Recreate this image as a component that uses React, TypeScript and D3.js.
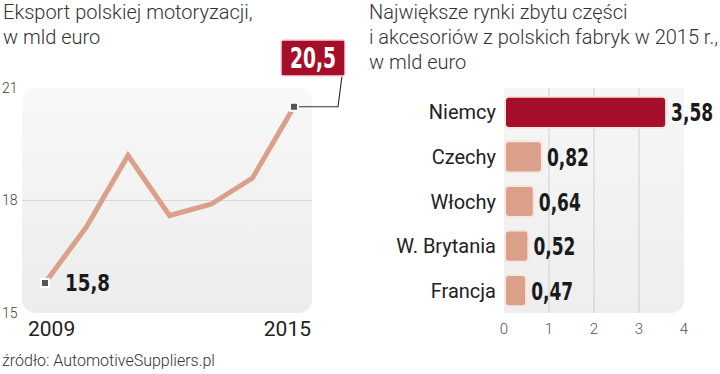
import React from "react";
import * as d3 from "d3";

const years = [2009, 2010, 2011, 2012, 2013, 2014, 2015];
const exportValues = [15.8, 17.3, 19.2, 17.6, 17.9, 18.6, 20.5];
const yTicks = [15, 18, 21];
const yearLabels = [2009, 2015];

const countries = ["Niemcy", "Czechy", "Włochy", "W. Brytania", "Francja"];
const marketValues = [3.58, 0.82, 0.64, 0.52, 0.47];
const xTicks = [0, 1, 2, 3, 4];

const red = "#a50f2a";
const salmon = "#dba08a";
const lightFont = "Roboto, 'Noto Sans', sans-serif";
const condFont = "'DejaVu Sans', sans-serif";

const fmt = (v: number) => String(v).replace(".", ",");

// bold condensed numbers, squeezed to the width they have in print
// (anchored at the right edge so the squeezed text ends where it should)
const Num = (props: { x: number; y: number; size: number; w: number; fill?: string; children: string }) => (
  <text
    x={props.x + props.w}
    y={props.y}
    dy="0.36em"
    textAnchor="end"
    fontFamily={condFont}
    fontStretch="condensed"
    fontWeight={700}
    fontSize={props.size}
    fill={props.fill || "#1a1a1a"}
    textLength={props.w}
    lengthAdjust="spacingAndGlyphs"
  >
    {props.children}
  </text>
);

export default function App() {
  // left: line chart
  const x = d3.scaleLinear().domain([2009, 2015]).range([45, 294]);
  const y = d3.scaleLinear().domain([15, 21]).range([313, 88]);
  const line = d3
    .line<number>()
    .x((d, i) => x(years[i]))
    .y(d => y(d));

  // right: bar chart
  const bx = d3.scaleLinear().domain([0, 4]).range([504, 684]);
  const by = d3.scaleBand().domain(countries).range([90, 313]).paddingInner(0.3).paddingOuter(0.15);

  const first = exportValues[0];
  const last = exportValues[exportValues.length - 1];
  const lx = x(years[years.length - 1]),
    ly = y(last);

  return (
    <svg width={720} height={374} style={{ position: "absolute", left: 0, top: 0, background: "#fff" }}>
      <defs>
        <linearGradient id="panelGrad" x1="0" y1="0" x2="0" y2="1">
          <stop offset="0" stopColor="#f8f8f8" />
          <stop offset="1" stopColor="#ececec" />
        </linearGradient>
        <linearGradient id="barPanel" x1="0" y1="0" x2="0" y2="1">
          <stop offset="0" stopColor="#f6f6f6" />
          <stop offset="1" stopColor="#eeeeee" />
        </linearGradient>
      </defs>

      {/* titles */}
      <text x={3} y={19} fontFamily={lightFont} fontWeight={300} fontSize={20} fill="#333">
        Eksport polskiej motoryzacji,
      </text>
      <text x={3} y={44} fontFamily={lightFont} fontWeight={300} fontSize={20} fill="#333">
        w mld euro
      </text>
      <text x={369} y={19} fontFamily={lightFont} fontWeight={300} fontSize={20} fill="#333">
        Największe rynki zbytu części
      </text>
      <text x={369} y={44} fontFamily={lightFont} fontWeight={300} fontSize={20} fill="#333">
        i akcesoriów z polskich fabryk w 2015 r.,
      </text>
      <text x={369} y={69} fontFamily={lightFont} fontWeight={300} fontSize={20} fill="#333">
        w mld euro
      </text>

      {/* line chart panel */}
      <rect x={22} y={y(21)} width={290} height={y(15) - y(21)} rx={14} fill="url(#panelGrad)" />
      <line x1={22} x2={312} y1={y(18)} y2={y(18)} stroke="#d6d6d6" strokeWidth={1} />
      {yTicks.map(t => (
        <text key={t} x={2} y={y(t)} dy="0.35em" fontFamily={lightFont} fontWeight={300} fontSize={14} fill="#444">
          {t}
        </text>
      ))}
      {yearLabels.map((yr, i) => (
        <text
          key={yr}
          x={i === 0 ? 28 : 311}
          y={336}
          textAnchor={i === 0 ? "start" : "end"}
          fontFamily={lightFont}
          fontSize={21}
          fill="#222"
        >
          {yr}
        </text>
      ))}
      <path d={line(exportValues) || ""} fill="none" stroke={salmon} strokeWidth={5} strokeLinejoin="miter" />

      {/* connector to the last value box */}
      <polyline points={`${lx},${ly} ${338},${ly} ${342},${76}`} fill="none" stroke="#333" strokeWidth={1.2} />
      <rect x={x(years[0]) - 4} y={y(first) - 4} width={8} height={8} fill="#555" stroke="#fff" strokeWidth={2} />
      <rect x={lx - 4} y={ly - 4} width={8} height={8} fill="#555" stroke="#fff" strokeWidth={2} />
      <Num x={65} y={y(first)} size={23} w={45}>
        {fmt(first)}
      </Num>
      <rect x={281} y={40} width={64} height={36} rx={2} fill={red} stroke="#f3d6da" strokeWidth={1.5} />
      <Num x={290} y={58} size={29} w={46} fill="#fff">
        {fmt(last)}
      </Num>

      {/* bar chart panel */}
      <path
        d={`M${bx(0)},88 H${bx(4)} V${313 - 14} Q${bx(4)},313 ${bx(4) - 14},313 H${bx(0)} Z`}
        fill="url(#barPanel)"
      />
      {xTicks.slice(1, 4).map(t => (
        <line key={t} x1={bx(t)} x2={bx(t)} y1={88} y2={313} stroke="#cfcfcf" strokeWidth={1} />
      ))}
      {xTicks.map(t => (
        <text key={t} x={bx(t)} y={334} textAnchor="middle" fontFamily={lightFont} fontWeight={300} fontSize={15} fill="#555">
          {t}
        </text>
      ))}
      {countries.map((c, i) => {
        const v = marketValues[i];
        const yy = by(c) || 0;
        const h = by.bandwidth();
        return (
          <g key={c}>
            <rect
              x={bx(0) + 1}
              y={yy}
              width={bx(v) - bx(0)}
              height={h}
              rx={4}
              fill={i === 0 ? red : salmon}
              stroke="#f7e6e0"
              strokeWidth={2}
            />
            <text
              x={496}
              y={yy + h / 2}
              dy="0.35em"
              textAnchor="end"
              fontFamily={lightFont}
              fontWeight={400}
              fontSize={20}
              fill="#222"
            >
              {c}
            </text>
            <Num x={bx(v) + 6} y={yy + h / 2} size={25} w={42}>
              {fmt(v)}
            </Num>
          </g>
        );
      })}

      <text x={2} y={366} fontFamily={lightFont} fontWeight={300} fontSize={16} fill="#333">
        źródło: AutomotiveSuppliers.pl
      </text>
    </svg>
  );
}
